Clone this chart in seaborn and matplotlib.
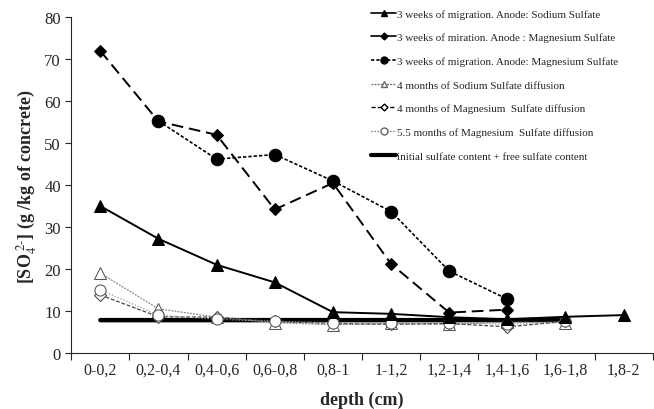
import numpy as np
import pandas as pd
import matplotlib
matplotlib.use('Agg')
import matplotlib.pyplot as plt
import seaborn as sns
from matplotlib.lines import Line2D

sns.set_style("ticks")
plt.rcParams['font.family'] = ['Liberation Serif', 'DejaVu Serif']
plt.rcParams['mathtext.fontset'] = 'stix'

depth = ['0-0,2', '0,2-0,4', '0,4-0,6', '0,6-0,8', '0,8-1',
         '1-1,2', '1,2-1,4', '1,4-1,6', '1,6-1,8', '1,8-2']

mig_na = [35.0, 27.2, 21.0, 16.8, 9.7, 9.3, 8.5, 8.0, 8.6, 9.0]
mig_mg_a = [72.0, 55.2, 52.0, 34.2, 40.5, 21.2, 9.6, 10.3, np.nan, np.nan]
mig_mg_b = [np.nan, 55.3, 46.2, 47.3, 41.0, 33.7, 19.5, 12.8, np.nan, np.nan]
dif_na_4m = [19.0, 10.5, 8.5, 7.2, 6.7, 7.0, 6.8, 7.3, 7.2, np.nan]
dif_mg_4m = [13.8, 8.6, 8.5, 7.5, 7.0, 6.8, 7.0, 6.2, 7.5, np.nan]
dif_mg_55m = [15.0, 9.0, 8.0, 7.5, 7.2, 7.0, 7.2, 6.8, 7.5, np.nan]
initial = [7.8, 7.8, 7.8, 7.8, 7.8, 7.8, 7.8, 7.8, 7.9, np.nan]

labels = ['3 weeks of migration. Anode: Sodium Sulfate',
          '3 weeks of miration. Anode : Magnesium Sulfate',
          '3 weeks of migration. Anode: Magnesium Sulfate',
          '4 months of Sodium Sulfate diffusion',
          '4 months of Magnesium  Sulfate diffusion',
          '5.5 months of Magnesium  Sulfate diffusion',
          'initial sulfate content + free sulfate content']

xpos = np.arange(len(depth)) + 0.5

fig, ax = plt.subplots(figsize=(6.54, 4.10), dpi=100)

def draw(vals, **kw):
    df = pd.DataFrame({'x': xpos, 'y': vals}).dropna()
    sns.lineplot(data=df, x='x', y='y', ax=ax, legend=False, **kw)

draw(initial, color='black', linewidth=3.2)
draw(dif_na_4m, color='#888888', linestyle=(0, (1.5, 1)), linewidth=0.9,
     marker='^', markersize=8, markerfacecolor='white', markeredgecolor='#555555')
draw(dif_mg_4m, color='#444444', linestyle=(0, (3, 1.5)), linewidth=0.9,
     marker='D', markersize=6, markerfacecolor='white', markeredgecolor='#444444')
draw(dif_mg_55m, color='#999999', linestyle=(0, (1, 1.5)), linewidth=0.9,
     marker='o', markersize=8, markerfacecolor='white', markeredgecolor='#555555')
draw(mig_na, color='black', linewidth=1.4, marker='^', markersize=8,
     markerfacecolor='black', markeredgecolor='black')
draw(mig_mg_a, color='black', linestyle=(0, (6, 3)), linewidth=1.4, marker='D',
     markersize=6, markerfacecolor='black', markeredgecolor='black')
draw(mig_mg_b, color='black', linestyle=(0, (2, 1.2)), linewidth=1.2, marker='o',
     markersize=9, markerfacecolor='black', markeredgecolor='black')

handles = [
    Line2D([], [], color='black', lw=1.2, marker='^', ms=5),
    Line2D([], [], color='black', lw=1.2, marker='D', ms=3.5),
    Line2D([], [], color='black', lw=1.2, ls=(0, (2, 1.2)), marker='o', ms=5),
    Line2D([], [], color='#666666', lw=0.9, ls=(0, (1.5, 1)), marker='^', ms=5,
           markerfacecolor='white'),
    Line2D([], [], color='black', lw=1.0, ls=(0, (3, 1.5)), marker='D', ms=3.5,
           markerfacecolor='white'),
    Line2D([], [], color='#666666', lw=0.9, ls=(0, (1, 1.5)), marker='o', ms=5,
           markerfacecolor='white'),
    Line2D([], [], color='black', lw=3),
]
ax.legend(handles, labels, loc='upper left', bbox_to_anchor=(0.555, 0.995),
          bbox_transform=fig.transFigure, borderaxespad=0.3,
          frameon=False, fontsize=8, handlelength=2.3, handletextpad=0.1,
          labelspacing=1.25)

ax.set_xlim(0, len(depth))
ax.set_ylim(0, 80)
ax.set_yticks(range(0, 81, 10))
ax.set_xticks(np.arange(len(depth) + 1), minor=False)
ax.set_xticklabels([''] * (len(depth) + 1))
ax.set_xticks(xpos, minor=True)
ax.set_xticklabels(depth, minor=True)
ax.tick_params(axis='x', which='minor', length=0, pad=6, labelsize=11.5)
ax.tick_params(axis='x', which='major', length=5, direction='out')
ax.tick_params(axis='y', labelsize=12, length=4, direction='out')

ax.set_xlabel('depth (cm)', fontsize=13, fontweight='bold', labelpad=10)
ax.set_ylabel(r'[SO$_4^{\ 2\text{-}}$] (g /kg of concrete)', fontsize=13,
              fontweight='bold')
sns.despine(ax=ax, top=True, right=True)

fig.subplots_adjust(left=0.109, right=0.998, top=0.955, bottom=0.137)
fig.savefig('out.png', dpi=100)
